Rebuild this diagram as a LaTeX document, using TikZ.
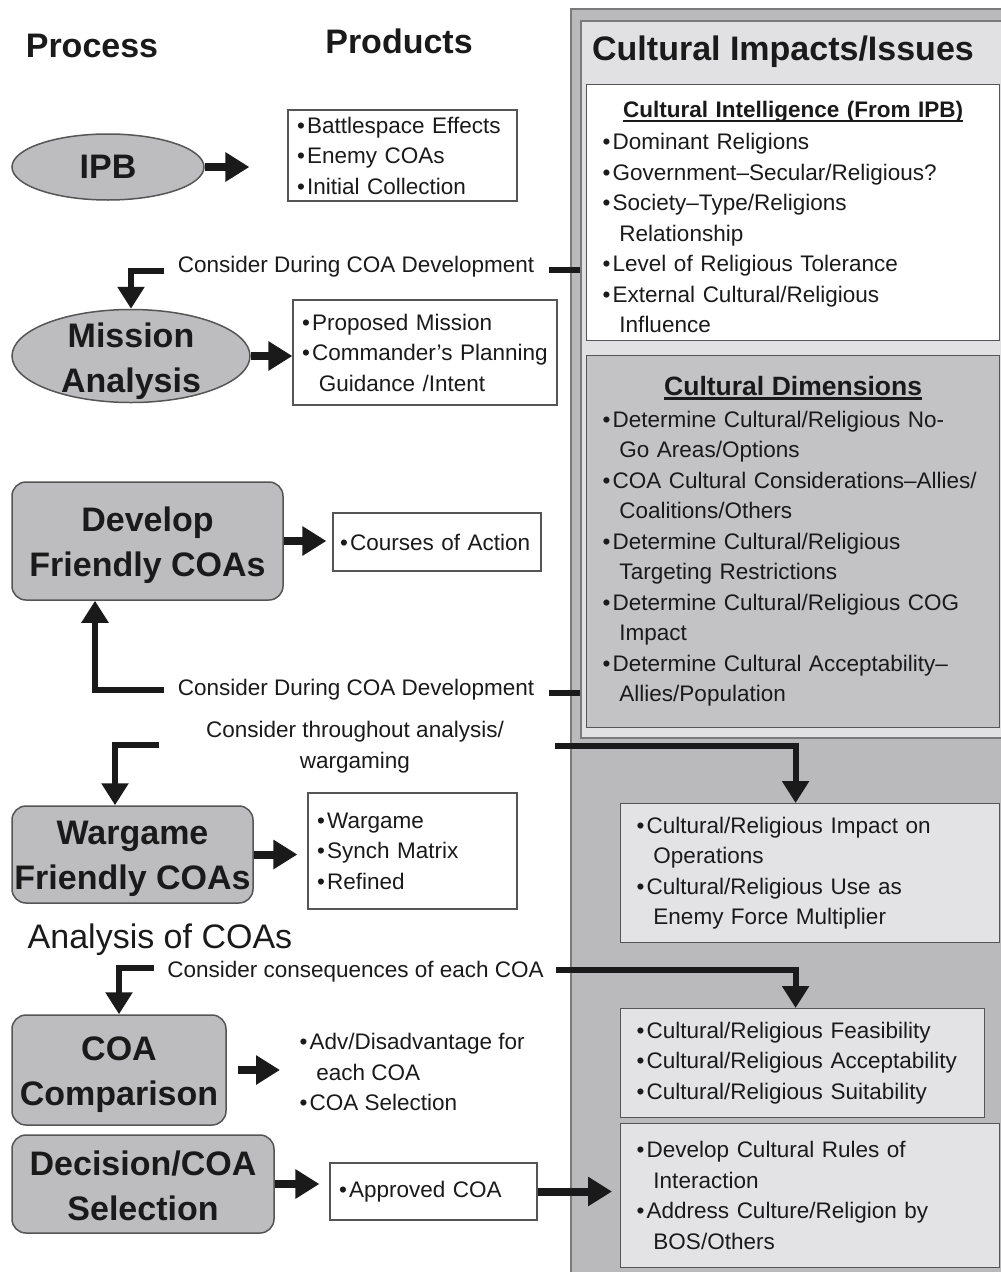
\documentclass[tikz,border=0pt]{standalone}
\usepackage{fontspec}
\setmainfont{Liberation Sans}
\usetikzlibrary{arrows.meta, shapes.geometric}
\definecolor{cproc}{HTML}{BDBDBF}
\definecolor{cedge}{HTML}{555555}
\definecolor{cframe}{HTML}{7A7A7A}
\definecolor{cpanel}{HTML}{BABABD}
\definecolor{clight}{HTML}{E1E1E3}
\definecolor{cdim}{HTML}{C3C3C6}
\definecolor{cside}{HTML}{E3E3E5}
\definecolor{cink}{HTML}{1A1A1A}
\newcommand{\bul}{\makebox[0.45em][l]{•}}
\newcommand{\ind}{\hspace*{0.75em}}
\newcommand{\sinkby}[1]{\rule{0pt}{#1}}
\newcommand{\undl}[1]{\setbox0=\hbox{#1}\rlap{\rule[-4pt]{\wd0}{2.4pt}}\box0}
\tikzset{
  every picture/.style={x=1pt, y=-1pt, font=\fontsize{22.5}{30.5}\selectfont, text=cink},
  head/.style={font=\fontsize{34}{40}\selectfont\bfseries},
  proctext/.style={align=center, inner sep=0pt, font=\fontsize{34}{45}\selectfont\bfseries},
  proc/.style={draw=cedge, fill=cproc, line width=1.5pt, proctext},
  procoval/.style={proc, ellipse},
  procround/.style={proc, rectangle, rounded corners=14pt},
  prod/.style={draw=cedge, fill=white, line width=1.2pt, align=left, inner xsep=9pt, text width=#1},
  sidebox/.style={draw=cedge, fill=#1, line width=1.2pt, align=left, inner xsep=16pt, anchor=north west},
  flow/.style={draw=cink, line width=8pt, -{Triangle[length=24pt, width=28pt]}},
  link/.style={draw=cink, line width=6pt},
  linkarrow/.style={link, -{Triangle[length=22pt, width=26pt]}},
}
\begin{document}
\begin{tikzpicture}
  \useasboundingbox (0,0) rectangle (1001,1272);
  % right hand panel
  \node[draw=cframe, fill=cpanel, line width=2.2pt, minimum width=440pt, minimum height=1270pt, anchor=north west] (panel) at (570,8) {};
  \node[draw=cframe, fill=clight, line width=1.5pt, minimum width=430pt, minimum height=717pt, anchor=north west] (impacts) at (580,20) {};
  \node[head] (htitle) at (783,52) {Cultural Impacts/Issues};
  \node[sidebox=white, text width=381pt, minimum height=256pt] (intel) at (586,84) {\sinkby{26pt}\makebox[\hsize]{\bfseries\undl{Cultural Intelligence (From IPB)}}\\[1.5pt]
    \bul Dominant Religions\\
    \bul Government–Secular/Religious?\\
    \bul Society–Type/Religions\\
    \ind Relationship\\
    \bul Level of Religious Tolerance\\
    \bul External Cultural/Religious\\
    \ind Influence};
  \node[sidebox=cdim, text width=381pt, minimum height=372pt] (dims) at (586,355) {\makebox[\hsize]{\fontsize{26.5}{30}\selectfont\bfseries\undl{Cultural Dimensions}}\\[1pt]
    \bul Determine Cultural/Religious No-\\
    \ind Go Areas/Options\\
    \bul COA Cultural Considerations–Allies/\\
    \ind Coalitions/Others\\
    \bul Determine Cultural/Religious\\
    \ind Targeting Restrictions\\
    \bul Determine Cultural/Religious COG\\
    \ind Impact\\
    \bul Determine Cultural Acceptability–\\
    \ind Allies/Population};
  \node[sidebox=cside, text width=347pt, minimum height=139pt] (impactops) at (620,803) {\bul Cultural/Religious Impact on\\
    \ind Operations\\
    \bul Cultural/Religious Use as\\
    \ind Enemy Force Multiplier};
  \node[sidebox=cside, text width=332pt, minimum height=109pt] (feas) at (620,1008) {\bul Cultural/Religious Feasibility\\
    \bul Cultural/Religious Acceptability\\
    \bul Cultural/Religious Suitability};
  \node[sidebox=cside, text width=347pt, minimum height=144pt] (rules) at (620,1123) {\bul Develop Cultural Rules of\\
    \ind Interaction\\
    \bul Address Culture/Religion by\\
    \ind BOS/Others};
  % column heads
  \node[head] (hproc) at (92,46) {Process};
  \node[head] (hprod) at (399,41) {Products};
  % process steps and products
  \node[procoval, minimum width=192pt, minimum height=66pt] (ipb) at (108,167) {IPB};
  \node[prod=211pt, minimum height=91pt] (battle) at (402.5,155.5) {\bul Battlespace Effects\\\bul Enemy COAs\\\bul Initial Collection};
  \node[procoval, minimum width=238pt, minimum height=93pt,
    label={[proctext, yshift=-5pt]center:{Mission\\Analysis}}] (mission) at (131,356) {};
  \node[prod=246pt, minimum height=105pt] (guid) at (425,352.5) {\bul Proposed Mission\\\bul Commander’s Planning\\\ind Guidance /Intent};
  \node[procround, minimum width=271pt, minimum height=118pt] (develop) at (147.5,541) {\sinkby{33pt}Develop\\Friendly COAs};
  \node[prod=194pt, inner xsep=7pt, minimum height=58pt] (courses) at (437,542) {\bul Courses of Action};
  \node[procround, minimum width=241pt, minimum height=97pt] (wargame) at (132.5,854.5) {\sinkby{33pt}Wargame\\Friendly COAs};
  \node[prod=191pt, minimum height=116pt] (synch) at (412.5,851) {\bul Wargame\\\bul Synch Matrix\\\bul Refined};
  \node[font=\fontsize{34}{40}\selectfont] (analysis) at (160,940) {Analysis of COAs};
  \node[procround, minimum width=214pt, minimum height=110pt] (compare) at (119,1070) {\sinkby{33pt}COA\\Comparison};
  \node[align=left, anchor=west] (advan) at (296,1072) {\bul Adv/Disadvantage for\\\ind each COA\\\bul COA Selection};
  \node[procround, minimum width=262pt, minimum height=98pt] (decide) at (143,1184) {\sinkby{28pt}Decision/COA\\Selection};
  \node[prod=189pt, minimum height=57pt] (approved) at (433.5,1191.5) {\bul Approved COA};
  % notes on the links
  \node (devA) at (356,267) {Consider During COA Development};
  \node (devB) at (356,690) {Consider During COA Development};
  \node[align=center] (thru) at (355,747) {Consider throughout analysis/\\wargaming};
  \node (conseq) at (355.5,972) {Consider consequences of each COA};
  % step to product
  \draw[flow] (ipb.east) -- ([xshift=-38pt]ipb.east -| battle.west);
  \draw[flow] (mission.east) -- (mission.east -| guid.west);
  \draw[flow] (develop.east) -- ([xshift=-6pt]develop.east -| courses.west);
  \draw[flow] (wargame.east) -- ([xshift=-10pt]wargame.east -| synch.west);
  \draw[flow] ([xshift=11pt]compare.east) -- ([xshift=-16pt]compare.east -| advan.west);
  \draw[flow] (decide.east) -- ([xshift=-10pt]decide.east -| approved.west);
  \draw[flow] (approved.east) -- ([xshift=-8pt]approved.east -| rules.west);
  % elbows into the steps
  \draw[linkarrow] ([xshift=-10pt,yshift=-4pt]devA.west) -| (mission.north);
  \draw[linkarrow] ([xshift=-10pt]devB.west) -| ([xshift=-52.5pt]develop.south);
  \draw[linkarrow] ([xshift=-44pt,yshift=2pt]thru.west) -| ([xshift=-17.5pt]wargame.north);
  \draw[linkarrow] ([xshift=-10pt,yshift=4pt]conseq.west) -| (compare.north);
  % links to the panel
  \draw[link] ([xshift=11pt,yshift=-3pt]devA.east) -- ([yshift=-3pt]devA.east -| impacts.west);
  \draw[link] ([xshift=11pt,yshift=-3pt]devB.east) -- ([yshift=-3pt]devB.east -| impacts.west);
  \draw[linkarrow] ([xshift=48pt,yshift=1pt]thru.east) -| ([xshift=-14.5pt]impactops.north);
  \draw[linkarrow] ([xshift=9pt,yshift=2pt]conseq.east) -| ([xshift=-7pt]feas.north);
\end{tikzpicture}
\end{document}
